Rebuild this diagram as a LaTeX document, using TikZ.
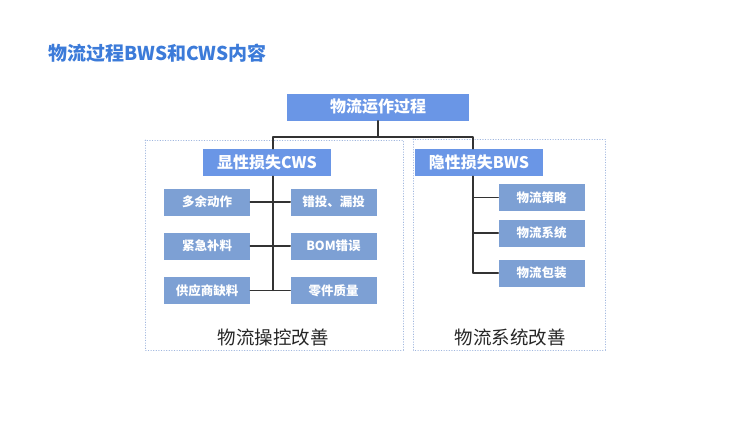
\documentclass[tikz,border=0pt]{standalone}
\usepackage{fontspec}
\setmainfont{Noto Sans CJK SC}
\definecolor{titleblue}{HTML}{3C7BD9}
\definecolor{headblue}{HTML}{6A96E6}
\definecolor{itemblue}{HTML}{7DA0D4}
\definecolor{framegray}{HTML}{9FB6DE}
\tikzset{
  headbox/.style={fill=headblue, text=white, font=\bfseries\fontsize{16}{16}\selectfont, minimum height=27pt, inner sep=0pt},
  itembox/.style={fill=itemblue, text=white, font=\bfseries\fontsize{12.5}{12.5}\selectfont, minimum width=86pt, minimum height=27pt, inner sep=0pt},
  link/.style={draw=black!80, line width=1.2pt},
  frame/.style={draw=framegray, dotted, line width=0.6pt}
}
\begin{document}
\begin{tikzpicture}[x=1pt, y=-1pt, line join=round, line cap=round]
\useasboundingbox (0,0) rectangle (750,421);
\node[font=\bfseries\fontsize{19}{19}\selectfont, text=titleblue, anchor=west] (title) at (45,53) {物流过程BWS和CWS内容};
% Rahmen
\draw[frame] (145,140) rectangle (403,350);
\draw[frame] (413,139) rectangle (605,350);
% Kopf
\node[headbox, minimum width=182pt] (yz) at (378,107) {物流运作过程};
\node[headbox, minimum width=128pt] (cws) at (267,162.5) {显性损失CWS};
\node[headbox, minimum width=128pt] (bws) at (479,162.5) {隐性损失BWS};
\coordinate (lt) at (273,137); \coordinate (rt) at (473,137);
% CWS
\node[itembox] (c1) at (207,202) {多余动作};
\node[itembox] (c2) at (207,246) {紧急补料};
\node[itembox] (c3) at (207,290.5) {供应商缺料};
\node[itembox] (c4) at (333.5,202) {错投、漏投};
\node[itembox] (c5) at (333.5,246) {BOM错误};
\node[itembox] (c6) at (333.5,290.5) {零件质量};
% BWS
\node[itembox] (b1) at (541.5,197.5) {物流策略};
\node[itembox] (b2) at (541.5,233) {物流系统};
\node[itembox] (b3) at (541.5,273) {物流包装};
\node[font=\fontsize{18.5}{18.5}\selectfont, text=black!85] (lc) at (273,337) {物流操控改善};
\node[font=\fontsize{18.5}{18.5}\selectfont, text=black!85] (lb) at (510,337) {物流系统改善};
% Linien
\draw[link] (yz.south) -- (yz.south |- lt);
\draw[link] (cws.north -| lt) -- (lt) -- (rt) -- (bws.north -| rt);
\draw[link] (cws.south -| lt) -- (c3.east -| lt);
\foreach \i/\j in {c1/c4,c2/c5,c3/c6}
  \draw[link] (\i.east) -- (\j.west);
\draw[link] (bws.south -| rt) -- (b3.west -| rt);
\foreach \k in {b1,b2,b3}
  \draw[link] (\k.west -| rt) -- (\k.west);
\end{tikzpicture}
\end{document}
